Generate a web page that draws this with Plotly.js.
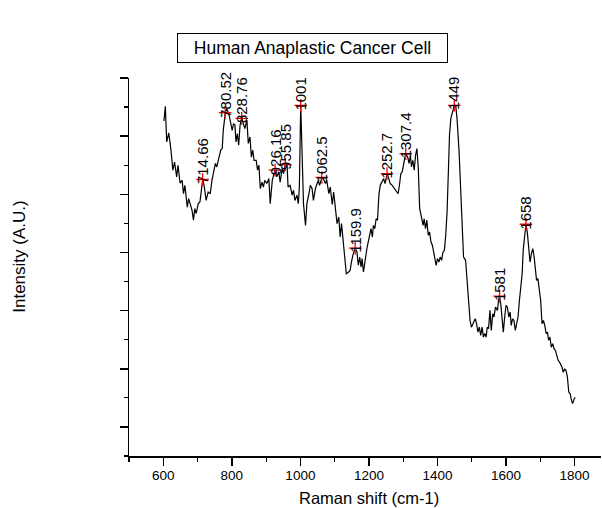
<!DOCTYPE html>
<html>
<head>
<meta charset="utf-8">
<script src="https://cdn.plot.ly/plotly-3.0.1.min.js"></script>
<style>
html,body{margin:0;padding:0;background:#fff;overflow:hidden;}
#chart{width:602px;height:508px;}
</style>
</head>
<body>
<div id="chart"></div>
<script>
// Raman shift (cm-1)
const ramanShift = [
 602,606,610,616,622,628,633,639,643,649,
 655,659,663,666,670,674,680,684,688,692,
 696,702,707,711,715,719,725,731,737,742,
 748,752,756,762,768,772,775,781,785,791,
 795,801,805,809,812,816,820,824,829,834,
 838,844,848,853,857,861,865,871,875,879,
 883,888,892,896,902,908,912,918,926,931,
 937,941,947,951,956,961,964,970,976,980,
 984,990,994,997,1001,1005,1009,1015,1019,1025,
 1029,1034,1038,1044,1048,1052,1056,1063,1067,1073,
 1077,1083,1087,1093,1097,1102,1107,1112,1116,1120,
 1124,1130,1134,1140,1145,1149,1153,1160,1165,1169,
 1173,1177,1180,1184,1190,1194,1198,1202,1206,1210,
 1213,1217,1221,1225,1229,1233,1239,1243,1247,1253,
 1258,1262,1268,1274,1280,1285,1289,1293,1297,1301,
 1307,1313,1317,1321,1324,1328,1332,1336,1340,1344,
 1348,1352,1358,1361,1365,1369,1373,1377,1381,1385,
 1389,1393,1396,1400,1404,1408,1412,1416,1420,1424,
 1428,1432,1435,1439,1445,1449,1453,1457,1463,1467,
 1472,1476,1482,1486,1491,1495,1499,1504,1510,1514,
 1518,1522,1526,1530,1534,1538,1542,1545,1549,1553,
 1557,1561,1565,1569,1575,1578,1581,1585,1592,1596,
 1600,1604,1608,1612,1615,1619,1623,1627,1631,1635,
 1639,1643,1647,1650,1654,1658,1662,1666,1670,1674,
 1678,1682,1686,1689,1693,1697,1701,1705,1709,1713,
 1717,1721,1724,1728,1732,1736,1740,1744,1748,1752,
 1756,1759,1763,1767,1771,1775,1779,1783,1787,1791,
 1794,1799,1802
];
// Intensity (A.U.)
const intensity = [
 1152,1203,1080,1111,1057,983,1011,960,1000,938,
 948,902,931,891,856,885,862,845,811,851,
 834,868,874,914,951,931,879,908,902,948,
 989,1006,994,1028,1054,1057,1120,1181,1195,1178,
 1149,1120,1143,1138,1080,1109,1069,1138,1161,1143,
 1126,1155,1075,1097,1028,1052,1017,1017,983,1000,
 920,942,925,948,937,954,868,948,983,960,
 977,942,989,971,1002,1006,925,931,897,914,
 879,897,868,925,1206,1040,868,793,868,902,
 931,920,879,920,937,948,931,958,954,937,
 948,902,925,865,908,845,799,822,753,799,
 742,673,627,632,638,667,690,715,701,656,
 684,650,679,633,690,713,736,759,782,753,
 793,782,816,811,897,931,948,954,937,971,
 954,937,931,920,910,902,931,971,977,1000,
 1040,1028,1006,1034,994,1017,983,1034,1057,989,
 851,828,793,816,782,811,759,770,736,725,
 701,667,656,679,667,684,673,701,707,759,
 839,989,1103,1161,1189,1206,1206,1161,1046,931,
 793,684,673,604,524,466,443,455,472,455,
 426,443,415,443,409,421,409,443,438,501,
 432,489,478,512,501,535,550,518,426,478,
 518,512,478,495,449,472,466,432,455,478,
 535,581,627,707,765,797,770,719,667,696,
 713,684,638,604,610,576,535,455,466,449,
 421,426,398,409,374,386,369,363,340,329,
 323,317,306,288,300,294,271,220,214,191,
 180,197,202
];
// Labelled peaks
const peakShift = [714.66,780.52,828.76,926.16,955.85,1001,1062.5,1159.9,1252.7,1307.4,1449,1581,1658];
const peakIntensity = [951,1181,1161,983,1002,1206,958,715,971,1040,1206,550,797];
const peakLabels = ["714.66","780.52","828.76","926.16","955.85","1001","1062.5","1159.9","1252.7","1307.4","1449","1581","1658"];

const FONT = "Liberation Sans, Arial, Helvetica, sans-serif";

const traces = [
  {
    x: ramanShift, y: intensity, type: "scatter", mode: "lines",
    line: {color: "#000", width: 1.2}, hoverinfo: "skip", showlegend: false
  },
  {
    x: peakShift, y: peakIntensity, type: "scatter", mode: "markers",
    marker: {symbol: "cross-thin", size: 9, line: {color: "#ff0000", width: 1.3}, color: "#ff0000"},
    showlegend: false, cliponaxis: false
  }
];

const annotations = peakShift.map((px, i) => ({
  x: px, y: peakIntensity[i], xref: "x", yref: "y",
  text: peakLabels[i], textangle: -90, showarrow: false,
  xanchor: "center", yanchor: "bottom", yshift: -7,
  font: {family: FONT, size: 15, color: "#000"}
}));

annotations.push({
  xref: "paper", yref: "paper", x: 0.389, y: 1.079,
  xanchor: "center", yanchor: "middle",
  text: "Human Anaplastic Cancer Cell", showarrow: false,
  bordercolor: "#000", borderwidth: 1, borderpad: 0,
  width: 269, height: 28, align: "center", valign: "middle",
  font: {family: FONT, size: 17.5, color: "#000"}
});
annotations.push({
  xref: "paper", yref: "paper", x: 0.508, y: 0,
  xanchor: "center", yanchor: "middle", yshift: -42,
  text: "Raman shift (cm-1)", showarrow: false,
  font: {family: FONT, size: 16.5, color: "#000"}
});
annotations.push({
  xref: "paper", yref: "paper", x: -0.231, y: 0.527,
  xanchor: "center", yanchor: "middle", textangle: -90,
  text: "Intensity (A.U.)", showarrow: false,
  font: {family: FONT, size: 17, color: "#000"}
});

const layout = {
  width: 602, height: 508,
  margin: {l: 129, r: 1, t: 78, b: 52, pad: 0},
  paper_bgcolor: "#fff", plot_bgcolor: "#fff",
  font: {family: FONT, size: 13, color: "#000"},
  showlegend: false,
  xaxis: {
    range: [500, 1877], showgrid: false, zeroline: false,
    showline: true, linecolor: "#000", linewidth: 1.5,
    ticks: "outside", ticklen: 8, tickwidth: 1.5, tickcolor: "#000",
    tick0: 600, dtick: 200, ticklabelstandoff: -2,
    minor: {dtick: 100, tick0: 500, ticks: "outside", ticklen: 4, tickwidth: 1.2, tickcolor: "#000", showgrid: false},
    tickfont: {family: FONT, size: 13.5, color: "#000"},
    fixedrange: true
  },
  yaxis: {
    range: [0, 1300], showgrid: false, zeroline: false,
    showline: true, linecolor: "#000", linewidth: 1.5,
    ticks: "outside", ticklen: 8, tickwidth: 1.5, tickcolor: "#000",
    tick0: 100, dtick: 200, showticklabels: false,
    minor: {dtick: 100, tick0: 0, ticks: "outside", ticklen: 4, tickwidth: 1.2, tickcolor: "#000", showgrid: false},
    fixedrange: true
  },
  annotations: annotations
};

Plotly.newPlot("chart", traces, layout, {staticPlot: true, displayModeBar: false});
</script>
</body>
</html>
